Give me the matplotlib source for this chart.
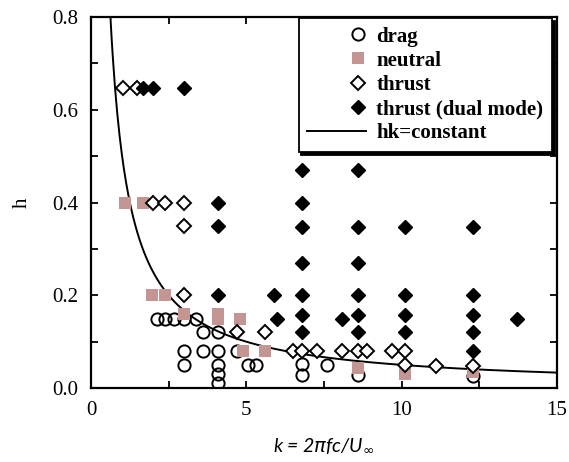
import numpy as np
import matplotlib
matplotlib.use("Agg")
import matplotlib.pyplot as plt
from matplotlib.legend_handler import HandlerLine2D
from matplotlib.ticker import MultipleLocator

# drag (open circles)
drag_k = [2.12, 2.38, 2.67, 2.99, 3.38, 3.6, 4.08, 2.99, 3.6, 4.08, 4.7,
          2.99, 4.08, 5.05, 5.3, 4.08, 4.08, 6.8, 6.8, 7.6, 8.6, 12.3]
drag_h = [0.15, 0.15, 0.15, 0.15, 0.15, 0.12, 0.12, 0.08, 0.08, 0.08, 0.08,
          0.05, 0.05, 0.05, 0.05, 0.03, 0.01, 0.053, 0.028, 0.05, 0.028, 0.025]

# neutral (squares)
neutral_k = [1.09, 1.67, 1.96, 2.38, 2.99, 4.08, 4.08, 4.8, 4.9, 5.6, 8.6, 10.1, 12.3]
neutral_h = [0.40, 0.40, 0.20, 0.20, 0.16, 0.16, 0.15, 0.15, 0.08, 0.08, 0.043, 0.03, 0.035]

# thrust (open diamonds)
thrust_k = [1.03, 1.48, 2.0, 2.38, 2.99, 2.99, 2.99, 4.7, 5.6,
            6.5, 6.8, 7.27, 8.07, 8.6, 8.87, 9.68, 10.1, 10.1, 11.1, 12.3]
thrust_h = [0.647, 0.647, 0.40, 0.40, 0.40, 0.35, 0.20, 0.12, 0.12,
            0.08, 0.08, 0.08, 0.08, 0.08, 0.08, 0.08, 0.08, 0.05, 0.047, 0.048]

# thrust (dual mode) (filled diamonds)
dual_k = [1.67, 2.0, 2.99, 4.08, 4.08, 4.08, 5.9, 6.0,
          6.8, 6.8, 6.8, 6.8, 6.8, 6.8, 6.8, 8.07,
          8.6, 8.6, 8.6, 8.6, 8.6, 8.6,
          10.1, 10.1, 10.1, 10.1,
          12.3, 12.3, 12.3, 12.3, 12.3, 13.7]
dual_h = [0.647, 0.647, 0.647, 0.40, 0.35, 0.20, 0.20, 0.148,
          0.47, 0.40, 0.347, 0.27, 0.20, 0.157, 0.12, 0.149,
          0.47, 0.347, 0.27, 0.20, 0.157, 0.12,
          0.347, 0.20, 0.157, 0.12,
          0.347, 0.20, 0.157, 0.12, 0.08, 0.148]

hk_const = 0.5

neutral_color = "#c39593"


class RightMarker(HandlerLine2D):
    # single marker at the right end of the handle box
    def get_xdata(self, legend, xdescent, ydescent, width, height, fontsize):
        xm = -xdescent + width - 0.35 * fontsize
        return [xm], [xm]


fig = plt.figure(figsize=(5.69, 4.62), dpi=100)
ax = fig.add_axes([0.16, 0.160, 0.819, 0.803])

kk = np.linspace(0.55, 15, 400)
ax.plot(kk, hk_const / kk, color="black", lw=1.4, zorder=1, label="hk=constant")

ax.plot(drag_k, drag_h, ls="none", marker="o", ms=8.8, mfc="none", mec="black",
        mew=1.4, zorder=2, label="drag")
ax.plot(neutral_k, neutral_h, ls="none", marker="s", ms=8.8, mfc=neutral_color,
        mec=neutral_color, mew=0, zorder=3, label="neutral")
ax.plot(thrust_k, thrust_h, ls="none", marker="D", ms=6.7, mfc="white", mec="black",
        mew=1.4, zorder=4, label="thrust")
ax.plot(dual_k, dual_h, ls="none", marker="D", ms=6.7, mfc="black", mec="black",
        mew=1.0, zorder=5, label="thrust (dual mode)")

ax.set_xlim(0, 15)
ax.set_ylim(0, 0.8)
ax.xaxis.set_major_locator(MultipleLocator(5))
ax.xaxis.set_minor_locator(MultipleLocator(2.5))
ax.yaxis.set_major_locator(MultipleLocator(0.2))
ax.yaxis.set_minor_locator(MultipleLocator(0.1))
ax.yaxis.set_major_formatter(matplotlib.ticker.FormatStrFormatter("%.1f"))
ax.tick_params(which="both", direction="in", top=True, right=True, length=5, width=1.3)
ax.tick_params(which="major", pad=9)
for lab in ax.get_xticklabels() + ax.get_yticklabels():
    lab.set_fontfamily("Liberation Serif")
    lab.set_fontsize(15)
for sp in ax.spines.values():
    sp.set_linewidth(1.6)

ax.set_ylabel("h", fontfamily="Liberation Serif", fontsize=15, labelpad=15)
ax.set_xlabel(r"k = 2$\pi$fc/U$_{\infty}$", fontfamily="Lato", style="italic",
              fontsize=14, labelpad=12)

handles, labels = ax.get_legend_handles_labels()
order = [1, 2, 3, 4, 0]
leg = ax.legend([handles[i] for i in order], [labels[i] for i in order],
                loc="upper right", bbox_to_anchor=(0.989, 0.998), borderaxespad=0,
                prop={"family": "Liberation Serif", "weight": "bold", "size": 15},
                handlelength=2.8, handletextpad=0.5, labelspacing=0.2,
                borderpad=0.42, fancybox=False, framealpha=1, edgecolor="black",
                shadow={"color": "black", "alpha": 1},
                handler_map={h: RightMarker(numpoints=2) for h in handles[1:]})
leg.get_frame().set_linewidth(1.3)

fig.savefig("out.png", dpi=100)
